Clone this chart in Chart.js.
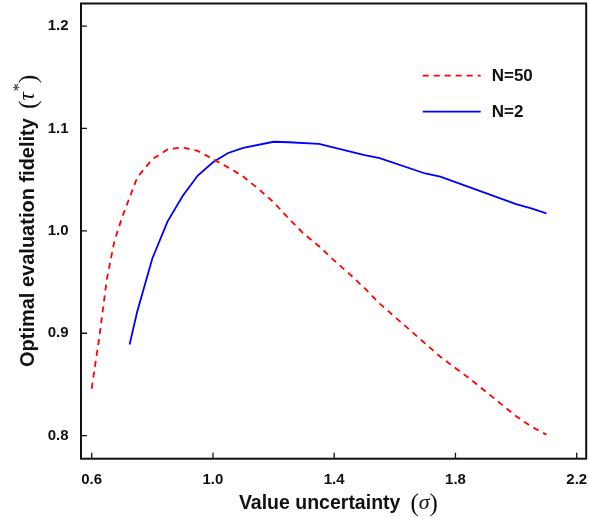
<!DOCTYPE html>
<html lang="en">
  <head>
    <meta charset="UTF-8" />
    <title>Optimal evaluation fidelity vs value uncertainty</title>
    <script src="https://cdn.jsdelivr.net/npm/chart.js"></script>
    <style>
      html, body { margin: 0; padding: 0; background: #fff; }
    </style>
  </head>
  <body>
    <canvas id="myChart" width="589" height="518"></canvas>

    <script>
      // N=50 curve (red, dashed)
      const sigmaN50 = [0.6, 0.625, 0.65, 0.675, 0.7, 0.75, 0.8, 0.85, 0.9, 0.95, 1.0, 1.05, 1.1, 1.15, 1.2, 1.25, 1.3, 1.35, 1.4, 1.45, 1.5, 1.55, 1.6, 1.65, 1.7, 1.75, 1.8, 1.85, 1.9, 1.95, 2.0, 2.05, 2.1];
      const fidelityN50 = [0.846, 0.896, 0.953, 0.99, 1.013, 1.052, 1.07, 1.0795, 1.0815, 1.078, 1.07, 1.062, 1.053, 1.041, 1.028, 1.012, 0.997, 0.985, 0.971, 0.958, 0.944, 0.929, 0.916, 0.903, 0.89, 0.877, 0.866, 0.855, 0.843, 0.831, 0.819, 0.809, 0.801];

      // N=2 curve (blue, solid)
      const sigmaN2 = [0.725, 0.75, 0.8, 0.85, 0.9, 0.95, 1.0, 1.05, 1.1, 1.2, 1.25, 1.35, 1.5, 1.55, 1.7, 1.75, 2.0, 2.05, 2.1];
      const fidelityN2 = [0.889, 0.921, 0.973, 1.009, 1.034, 1.054, 1.067, 1.076, 1.081, 1.087, 1.0865, 1.085, 1.074, 1.071, 1.056, 1.053, 1.026, 1.022, 1.017];

      const xTicks = [0.6, 1.0, 1.4, 1.8, 2.2];
      const yTicks = [0.8, 0.9, 1.0, 1.1, 1.2];

      const INK = '#111';
      const SANS = '"Liberation Sans", Arial, sans-serif';
      const SERIF = '"Liberation Serif", "DejaVu Serif", serif';

      const toPoints = (xs, ys) => xs.map((x, i) => ({ x: x, y: ys[i] }));

      // draw a run of text pieces (different fonts) along one baseline, centred on cx
      function drawPieces(ctx, pieces, cx) {
        let total = 0;
        pieces.forEach((p) => {
          ctx.font = p.font;
          p.w = ctx.measureText(p.text).width + (p.gap || 0);
          total += p.w;
        });
        let x = cx - total / 2;
        pieces.forEach((p) => {
          ctx.font = p.font;
          ctx.fillText(p.text, x, p.dy || 0);
          x += p.w;
        });
      }

      // no extra room for labels hanging over the ends
      const noPadding = (s) => {
        s.paddingLeft = 0;
        s.paddingRight = 0;
        s.paddingTop = 0;
        s.paddingBottom = 0;
      };

      // frame + inward ticks
      const frame = {
        id: 'frame',
        afterDraw(chart) {
          const { ctx, chartArea: a, scales } = chart;
          ctx.save();
          ctx.strokeStyle = INK;
          ctx.lineWidth = 1.3;
          ctx.beginPath();
          xTicks.forEach((v) => {
            const px = scales.x.getPixelForValue(v);
            ctx.moveTo(px, a.bottom);
            ctx.lineTo(px, a.bottom - 6);
          });
          yTicks.forEach((v) => {
            const py = scales.y.getPixelForValue(v);
            ctx.moveTo(a.left, py);
            ctx.lineTo(a.left + 6, py);
          });
          ctx.stroke();
          ctx.lineWidth = 2;
          ctx.strokeRect(a.left, a.top, a.right - a.left, a.bottom - a.top);
          ctx.restore();
        },
      };

      // legend inside the top right of the plot
      const legendInside = {
        id: 'legendInside',
        afterDatasetsDraw(chart) {
          const { ctx, chartArea: a } = chart;
          chart.data.datasets.forEach((ds, i) => {
            const y = a.top + 72.2 + i * 36;
            ctx.save();
            ctx.strokeStyle = ds.borderColor;
            ctx.lineWidth = ds.borderWidth;
            ctx.setLineDash(ds.borderDash || []);
            ctx.beginPath();
            ctx.moveTo(a.right - 163.5, y);
            ctx.lineTo(a.right - 105.5, y);
            ctx.stroke();
            ctx.setLineDash([]);
            ctx.fillStyle = INK;
            ctx.font = 'bold 17px ' + SANS;
            ctx.textBaseline = 'alphabetic';
            ctx.fillText(ds.label, a.right - 94.5, y + 5.5);
            ctx.restore();
          });
        },
      };

      // axis titles with the math symbols
      const axisTitles = {
        id: 'axisTitles',
        afterDraw(chart) {
          const { ctx } = chart;
          ctx.save();
          ctx.fillStyle = INK;
          ctx.textBaseline = 'alphabetic';

          ctx.save();
          ctx.translate(0, 508.5);
          drawPieces(ctx, [
            { text: 'Value uncertainty', font: 'bold 19.5px ' + SANS, gap: 10 },
            { text: '(', font: '25px ' + SERIF, dy: 2.5 },
            { text: 'σ', font: 'italic 22px ' + SERIF },
            { text: ')', font: '25px ' + SERIF, dy: 2.5 },
          ], 338.4);
          ctx.restore();

          ctx.save();
          ctx.translate(33.5, 0);
          ctx.rotate(-Math.PI / 2);
          drawPieces(ctx, [
            { text: 'Optimal evaluation fidelity', font: 'bold 20px ' + SANS, gap: 9 },
            { text: '(', font: '26px ' + SERIF, dy: 2.5 },
            { text: 'τ', font: 'italic 23px ' + SERIF, gap: 1 },
            { text: '*', font: '16px ' + SERIF, dy: -10 },
            { text: ')', font: '26px ' + SERIF, dy: 2.5 },
          ], -220.8);
          ctx.restore();

          ctx.restore();
        },
      };

      document.addEventListener('DOMContentLoaded', function () {
        const ctx = document.getElementById('myChart').getContext('2d');

        const myChart = new Chart(ctx, {
          type: 'line',
          plugins: [frame, legendInside, axisTitles],
          data: {
            datasets: [
              {
                label: 'N=50',
                data: toPoints(sigmaN50, fidelityN50),
                borderColor: '#ff0000',
                borderWidth: 1.8,
                borderDash: [6, 5],
                pointRadius: 0,
                tension: 0,
              },
              {
                label: 'N=2',
                data: toPoints(sigmaN2, fidelityN2),
                borderColor: '#0000ff',
                borderWidth: 1.8,
                pointRadius: 0,
                tension: 0,
              },
            ],
          },
          options: {
            responsive: false,
            animation: false,
            devicePixelRatio: 1,
            layout: { padding: { left: 0, top: 3.5, right: 2.8, bottom: 0 } },
            plugins: {
              legend: { display: false },
              tooltip: { enabled: false },
            },
            scales: {
              x: {
                type: 'linear',
                min: 0.5647,
                max: 2.2313,
                afterBuildTicks: (s) => {
                  s.ticks = xTicks.map((v) => ({ value: v }));
                },
                afterFit: (s) => {
                  s.height = 59.3;
                  noPadding(s);
                },
                grid: { display: false, drawTicks: false },
                border: { display: false },
                ticks: {
                  padding: 12,
                  color: INK,
                  font: { family: SANS, size: 15, weight: 'bold' },
                  callback: (v) => v.toFixed(1),
                  maxRotation: 0,
                },
              },
              y: {
                min: 0.7775,
                max: 1.222,
                afterBuildTicks: (s) => {
                  s.ticks = yTicks.map((v) => ({ value: v }));
                },
                afterFit: (s) => {
                  s.width = 81;
                  noPadding(s);
                },
                grid: { display: false, drawTicks: false },
                border: { display: false },
                ticks: {
                  padding: 12.5,
                  color: INK,
                  font: { family: SANS, size: 15, weight: 'bold' },
                  callback: (v) => v.toFixed(1),
                },
              },
            },
          },
        });
      });
    </script>
  </body>
</html>
